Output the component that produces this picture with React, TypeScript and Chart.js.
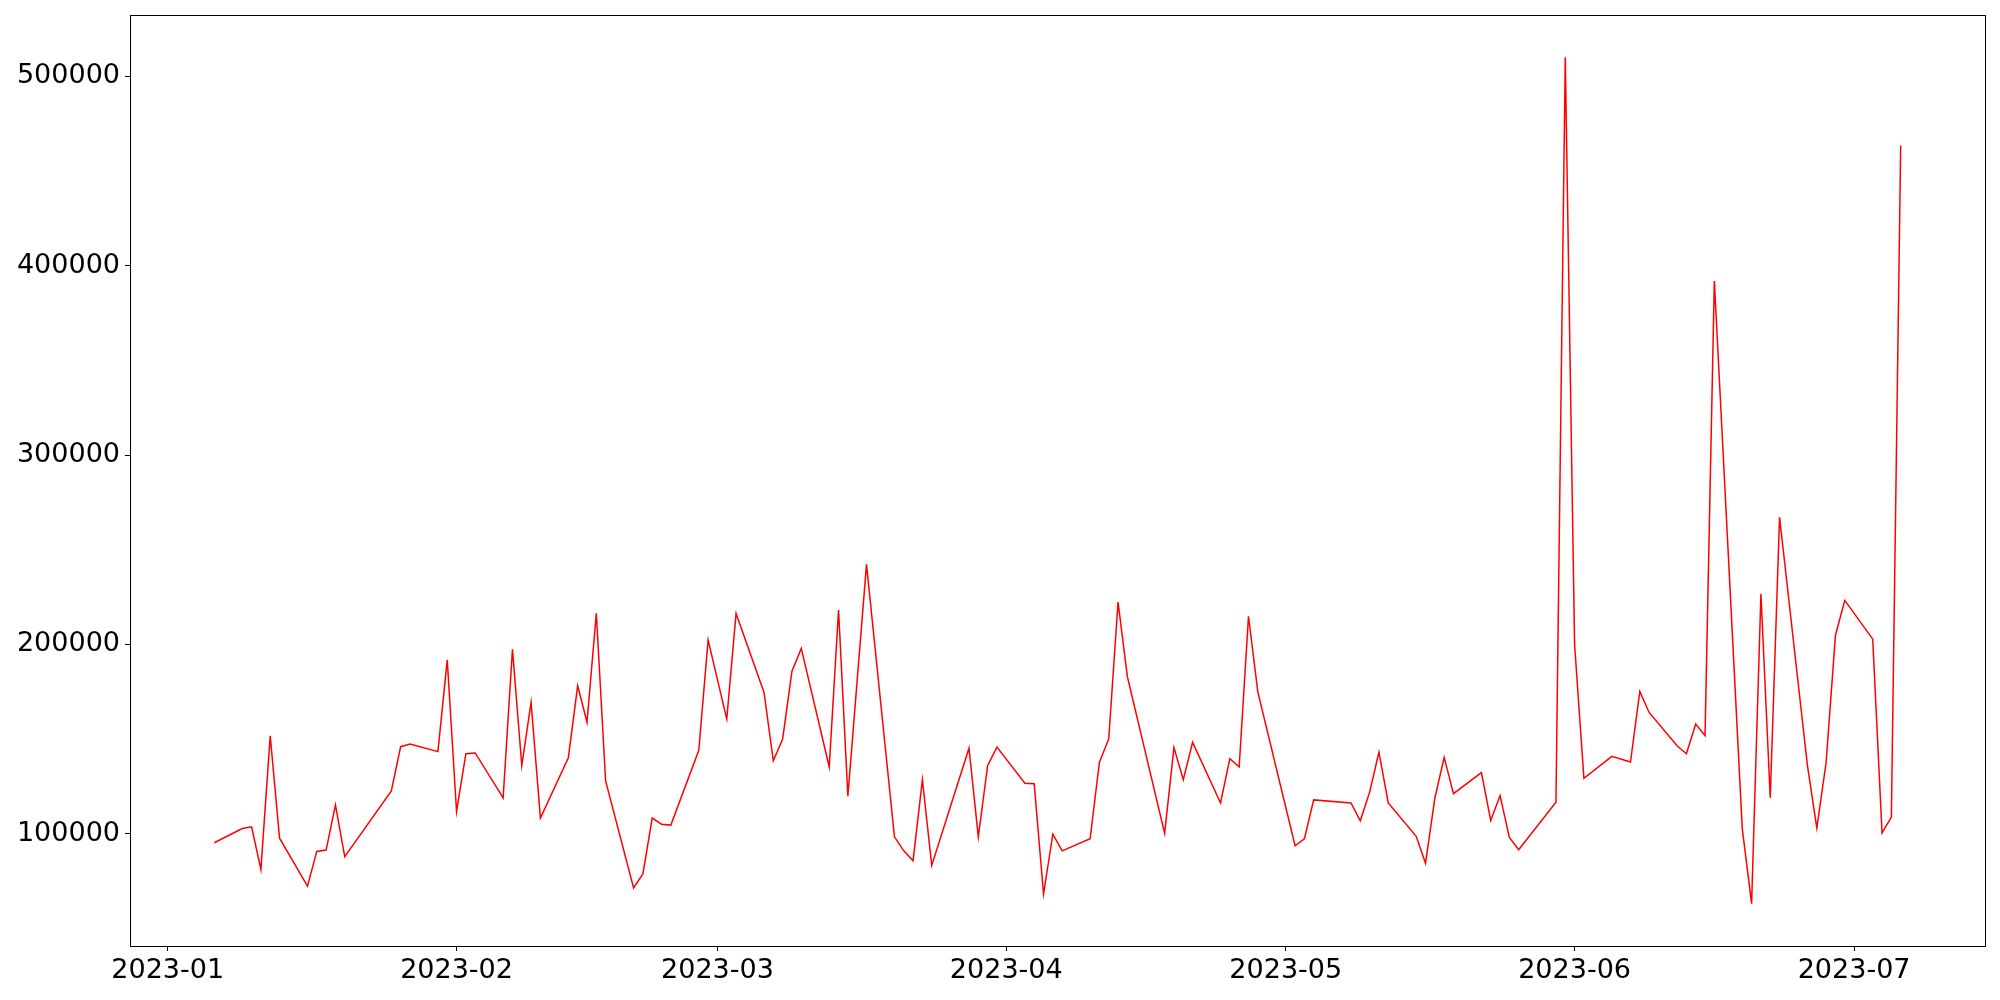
import React, { useEffect, useRef } from "react";
import { Chart, registerables } from "chart.js";

Chart.register(...registerables);

const dates: string[] = [
  "2023-01-06", "2023-01-09", "2023-01-10", "2023-01-11", "2023-01-12", "2023-01-13", "2023-01-16", "2023-01-17",
  "2023-01-18", "2023-01-19", "2023-01-20", "2023-01-25", "2023-01-26", "2023-01-27", "2023-01-30", "2023-01-31",
  "2023-02-01", "2023-02-02", "2023-02-03", "2023-02-06", "2023-02-07", "2023-02-08", "2023-02-09", "2023-02-10",
  "2023-02-13", "2023-02-14", "2023-02-15", "2023-02-16", "2023-02-17", "2023-02-20", "2023-02-21", "2023-02-22",
  "2023-02-23", "2023-02-24", "2023-02-27", "2023-02-28",
  "2023-03-02", "2023-03-03", "2023-03-06", "2023-03-07", "2023-03-08", "2023-03-09", "2023-03-10", "2023-03-13",
  "2023-03-14", "2023-03-15", "2023-03-17", "2023-03-20", "2023-03-21", "2023-03-22", "2023-03-23", "2023-03-24",
  "2023-03-28", "2023-03-29", "2023-03-30", "2023-03-31",
  "2023-04-03", "2023-04-04", "2023-04-05", "2023-04-06", "2023-04-07", "2023-04-10", "2023-04-11", "2023-04-12",
  "2023-04-13", "2023-04-14", "2023-04-18", "2023-04-19", "2023-04-20", "2023-04-21", "2023-04-24", "2023-04-25",
  "2023-04-26", "2023-04-27", "2023-04-28",
  "2023-05-02", "2023-05-03", "2023-05-04", "2023-05-08", "2023-05-09", "2023-05-10", "2023-05-11", "2023-05-12",
  "2023-05-15", "2023-05-16", "2023-05-17", "2023-05-18", "2023-05-19", "2023-05-22", "2023-05-23", "2023-05-24",
  "2023-05-25", "2023-05-26", "2023-05-30", "2023-05-31",
  "2023-06-01", "2023-06-02", "2023-06-05", "2023-06-07", "2023-06-08", "2023-06-09", "2023-06-12", "2023-06-13",
  "2023-06-14", "2023-06-15", "2023-06-16", "2023-06-19", "2023-06-20", "2023-06-21", "2023-06-22", "2023-06-23",
  "2023-06-26", "2023-06-27", "2023-06-28", "2023-06-29", "2023-06-30",
  "2023-07-03", "2023-07-04", "2023-07-05", "2023-07-06",
];

const values: number[] = [
  95300, 102800, 103700, 81200, 151800, 97700, 72400, 90700,
  91400, 115300, 87900, 122700, 146000, 147400, 143400, 191900,
  111800, 142300, 142700, 119000, 197500, 136000, 169400, 108300,
  140200, 178200, 158900, 216500, 127900, 71400, 78800, 108300,
  105100, 104600, 144100, 202400,
  160600, 216300, 174700, 138600, 150100, 185900, 197900, 135300,
  218200, 119900, 242300, 98400, 91000, 85800, 128600, 83300,
  145200, 98400, 136000, 145800,
  126700, 126400, 68200, 99800, 91000, 97400, 137800, 150100,
  222400, 183000, 100200, 145500, 128600, 148300, 116300, 139700,
  135300, 214900, 175000,
  93700, 97400, 117900, 116300, 106900, 122000, 143100, 116300,
  98700, 84400, 118800, 140400, 121200, 132300, 107000, 120200,
  98100, 91600, 116700, 510100,
  200100, 129300, 140900, 137900, 175200, 164100, 146500, 142300,
  158000, 151800, 392000, 102600, 63100, 226800, 119000, 267200,
  135700, 103000, 137800, 204900, 223300,
  202800, 100500, 108800, 463500,
];

const xTickLabels: string[] = ["2023-01", "2023-02", "2023-03", "2023-04", "2023-05", "2023-06", "2023-07"];
const yTickValues: number[] = [100000, 200000, 300000, 400000, 500000];

const DAY = 86400000;
const EPOCH = Date.UTC(2023, 0, 1);
const toDay = (s: string) => (Date.parse(s + "T00:00:00Z") - EPOCH) / DAY;

const framePlugin = {
  id: "frame",
  afterDraw(chart: any) {
    const { ctx, chartArea } = chart;
    ctx.save();
    ctx.strokeStyle = "#000";
    ctx.lineWidth = 1;
    ctx.strokeRect(
      Math.round(chartArea.left) + 0.5,
      Math.round(chartArea.top) + 0.5,
      Math.round(chartArea.right - chartArea.left),
      Math.round(chartArea.bottom - chartArea.top)
    );
    ctx.restore();
  },
};

export default function App() {
  const ref = useRef<HTMLCanvasElement | null>(null);

  useEffect(() => {
    if (!ref.current) return;
    const xs = dates.map(toDay);
    const points = xs.map((x, i) => ({ x, y: values[i] }));
    const xMinData = Math.min(...xs);
    const xMaxData = Math.max(...xs);
    const xPad = (xMaxData - xMinData) * 0.05;
    const yMinData = Math.min(...values);
    const yMaxData = Math.max(...values);
    const yPad = (yMaxData - yMinData) * 0.05;
    const xTickDays = xTickLabels.map((l) => toDay(l + "-01"));
    const font = { family: "'DejaVu Sans'", size: 27 };

    const chart = new Chart(ref.current, {
      type: "line",
      data: {
        datasets: [
          {
            data: points,
            borderColor: "#ff0000",
            borderWidth: 1.5,
            pointRadius: 0,
            tension: 0,
            fill: false,
          },
        ],
      },
      options: {
        animation: false,
        responsive: false,
        parsing: false as any,
        layout: { padding: { left: 0, top: 15, right: 15, bottom: 0 } },
        plugins: { legend: { display: false }, tooltip: { enabled: false } },
        scales: {
          x: {
            type: "linear",
            min: xMinData - xPad,
            max: xMaxData + xPad,
            afterBuildTicks: (scale: any) => {
              scale.ticks = xTickDays.map((v) => ({ value: v }));
            },
            afterFit: (scale: any) => {
              scale.height = 54;
              scale.paddingLeft = 0;
              scale.paddingRight = 0;
            },
            ticks: {
              color: "#000",
              font,
              padding: 4,
              maxRotation: 0,
              autoSkip: false,
              callback: (v: any) => {
                const i = xTickDays.indexOf(Number(v));
                return i >= 0 ? xTickLabels[i] : "";
              },
            },
            grid: { drawOnChartArea: false, drawTicks: true, tickLength: 5, color: "#000" },
            border: { display: true, color: "#000" },
          },
          y: {
            type: "linear",
            min: yMinData - yPad,
            max: yMaxData + yPad,
            afterBuildTicks: (scale: any) => {
              scale.ticks = yTickValues.map((v) => ({ value: v }));
            },
            afterFit: (scale: any) => {
              scale.width = 130;
              scale.paddingTop = 0;
              scale.paddingBottom = 0;
            },
            ticks: {
              color: "#000",
              font,
              padding: 5,
              callback: (v: any) => String(v),
            },
            grid: { drawOnChartArea: false, drawTicks: true, tickLength: 5, color: "#000" },
            border: { display: true, color: "#000" },
          },
        },
      },
      plugins: [framePlugin],
    });
    return () => chart.destroy();
  }, []);

  return (
    <div style={{ position: "fixed", left: 0, top: 0, width: 2000, height: 1000, background: "#fff" }}>
      <canvas ref={ref} width={2000} height={1000} style={{ width: 2000, height: 1000, display: "block" }} />
    </div>
  );
}
